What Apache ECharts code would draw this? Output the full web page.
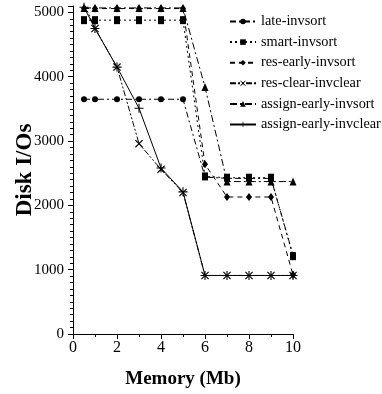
<!DOCTYPE html>
<html><head><meta charset="utf-8">
<script src="https://cdn.jsdelivr.net/npm/echarts@6/dist/echarts.min.js"></script>
<style>html,body{margin:0;padding:0;background:#fff}#c{width:382px;height:394px}</style>
</head><body><div id="c"></div>
<script>
const memory = [0.5, 1, 2, 3, 4, 5, 6, 7, 8, 9, 10];
const lateInvsort = [3650, 3650, 3650, 3650, 3650, 3650, 2440, 2420, 2420, 2420, 1230];
const smartInvsort = [4880, 4880, 4880, 4880, 4880, 4880, 2450, 2430, 2430, 2430, 1210];
const resEarlyInvsort = [5060, 5060, 5060, 5060, 5060, 5060, 2640, 2130, 2130, 2130, 920];
const resClearInvclear = [5140, 4750, 4150, 2960, 2560, 2200, 910, 910, 910, 910, 910];
const assignEarlyInvsort = [5070, 5070, 5070, 5070, 5070, 5070, 3840, 2370, 2370, 2370, 2370];
const assignEarlyInvclear = [5080, 4750, 4150, 3510, 2580, 2210, 910, 910, 910, 910, 910];
const seriesNames = ['late-invsort','smart-invsort','res-early-invsort','res-clear-invclear','assign-early-invsort','assign-early-invclear'];
const yTicks = [0, 1000, 2000, 3000, 4000, 5000];
const xTicks = [0, 2, 4, 6, 8, 10];

const FONT = 'Liberation Serif';
const X_SYM = 'path://M0,1L1,0L5,4L9,0L10,1L6,5L10,9L9,10L5,6L1,10L0,9L4,5Z';
const P_SYM = 'path://M4.4,0H5.6V4.4H10V5.6H5.6V10H4.4V5.6H0V4.4H4.4Z';
const styles = [
  {data: lateInvsort, symbol: 'circle', size: 6, dash: [6,3,2,3]},
  {data: smartInvsort, symbol: 'rect', size: [6,8], dash: [2,3]},
  {data: resEarlyInvsort, symbol: 'diamond', size: [6,8], dash: [5,4]},
  {data: resClearInvclear, symbol: X_SYM, size: 8, dash: [6,2,2,2,2,2]},
  {data: assignEarlyInvsort, symbol: 'triangle', size: [7,8], dash: [7,3,2,3]},
  {data: assignEarlyInvclear, symbol: P_SYM, size: 9, dash: 'solid'}
];
const series = styles.map((s, i) => ({
  name: seriesNames[i],
  type: 'line',
  data: memory.map((m, j) => [m, s.data[j]]),
  symbol: s.symbol,
  symbolSize: s.size,
  showAllSymbol: true,
  animation: false,
  itemStyle: {color: '#000', borderColor: '#000', borderWidth: 0},
  lineStyle: {color: '#000', width: 1, type: s.dash}
}));

const chart = echarts.init(document.getElementById('c'));
chart.setOption({
  animation: false,
  grid: {left: 73, right: 89, top: 6, bottom: 60, containLabel: false, outerBoundsMode: 'none'},
  legend: {
    orient: 'vertical', left: 229, top: 14.5, itemWidth: 26, itemHeight: 7, itemGap: 6.6,
    padding: 0,
    textStyle: {fontFamily: FONT, fontSize: 14.3, color: '#000'},
    data: seriesNames
  },
  xAxis: {
    type: 'value', min: 0, max: 10, interval: 2,
    name: 'Memory (Mb)', nameLocation: 'middle', nameGap: 36,
    nameTextStyle: {fontFamily: FONT, fontSize: 19, fontWeight: 'bold', color: '#000'},
    axisLine: {lineStyle: {color: '#000', width: 1}},
    axisTick: {length: 5, lineStyle: {color: '#000'}},
    minorTick: {show: true, splitNumber: 2, length: 3, lineStyle: {color: '#000'}},
    splitLine: {show: false},
    axisLabel: {fontFamily: FONT, fontSize: 16, color: '#000', margin: 6,
      formatter: v => xTicks.includes(v) ? String(v) : ''}
  },
  yAxis: {
    type: 'value', min: 0, max: 5100, interval: 1000,
    name: 'Disk I/Os', nameLocation: 'middle', nameGap: 36, nameMoveOverlap: false,
    nameTextStyle: {fontFamily: FONT, fontSize: 23, fontWeight: 'bold', color: '#000'},
    axisLine: {show: true, lineStyle: {color: '#000', width: 1}},
    axisTick: {show: true, length: 5, lineStyle: {color: '#000'}},
    minorTick: {show: true, splitNumber: 10, length: 3, lineStyle: {color: '#000'}},
    splitLine: {show: false},
    axisLabel: {fontFamily: FONT, fontSize: 15, color: '#000', margin: 9,
      formatter: v => yTicks.includes(v) ? String(v) : ''}
  },
  series: series
});
</script></body></html>
